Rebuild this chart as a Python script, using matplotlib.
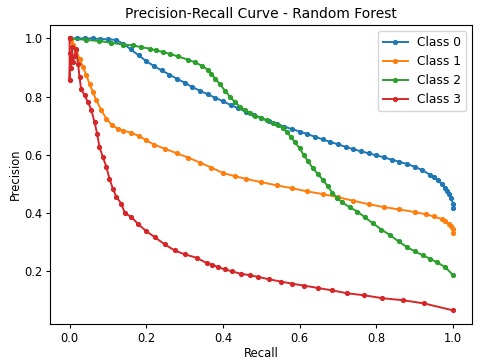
import matplotlib
matplotlib.use("Agg")
import matplotlib.pyplot as plt

# recall / precision values
recall_0 = [0.0, 0.02, 0.04, 0.06, 0.08, 0.10, 0.12, 0.14, 0.16, 0.18, 0.20, 0.22, 0.24, 0.26, 0.28,
            0.30, 0.32, 0.34, 0.36, 0.38, 0.40, 0.42, 0.44, 0.46, 0.48, 0.50, 0.52, 0.54, 0.56, 0.58,
            0.60, 0.62, 0.64, 0.66, 0.68, 0.70, 0.72, 0.74, 0.76, 0.78, 0.80, 0.82, 0.84, 0.86, 0.88,
            0.90, 0.92, 0.94, 0.95, 0.96, 0.97, 0.98, 0.985, 0.99, 0.995, 1.0, 1.0]
precision_0 = [1.0, 1.0, 1.0, 1.0, 0.998, 0.997, 0.995, 0.982, 0.962, 0.942, 0.922, 0.905, 0.89, 0.876, 0.861,
               0.848, 0.833, 0.82, 0.808, 0.796, 0.784, 0.771, 0.76, 0.748, 0.737, 0.726, 0.716, 0.706, 0.697, 0.688,
               0.68, 0.671, 0.662, 0.653, 0.644, 0.636, 0.627, 0.619, 0.612, 0.605, 0.598, 0.591, 0.583, 0.576, 0.568,
               0.559, 0.547, 0.531, 0.522, 0.512, 0.5, 0.487, 0.477, 0.466, 0.45, 0.432, 0.416]

recall_1 = [0.0, 0.005, 0.01, 0.017, 0.026, 0.035, 0.044, 0.052, 0.061, 0.07, 0.083, 0.096, 0.11, 0.125,
            0.14, 0.16, 0.18, 0.2, 0.22, 0.25, 0.28, 0.31, 0.34, 0.37, 0.4, 0.43, 0.46, 0.5, 0.54, 0.58,
            0.62, 0.66, 0.7, 0.74, 0.78, 0.82, 0.86, 0.9, 0.93, 0.95, 0.97, 0.98, 0.99, 0.995, 1.0, 1.0]
precision_1 = [1.0, 0.99, 0.976, 0.959, 0.93, 0.901, 0.873, 0.844, 0.815, 0.787, 0.753, 0.724, 0.703, 0.69,
               0.683, 0.676, 0.665, 0.65, 0.635, 0.62, 0.605, 0.59, 0.573, 0.556, 0.537, 0.527, 0.517, 0.506,
               0.495, 0.485, 0.474, 0.465, 0.454, 0.442, 0.43, 0.42, 0.412, 0.403, 0.395, 0.388, 0.379, 0.372,
               0.362, 0.354, 0.345, 0.33]

recall_2 = [0.0, 0.044, 0.078, 0.109, 0.139, 0.165, 0.187, 0.209, 0.226, 0.244, 0.261, 0.283, 0.309, 0.326,
            0.345, 0.36, 0.37, 0.38, 0.392, 0.405, 0.418, 0.431, 0.444, 0.457, 0.47, 0.483, 0.5, 0.514, 0.53,
            0.544, 0.556, 0.566, 0.577, 0.587, 0.6, 0.61, 0.622, 0.635, 0.648, 0.66, 0.673, 0.685, 0.698,
            0.71, 0.73, 0.75, 0.77, 0.79, 0.813, 0.836, 0.858, 0.879, 0.9, 0.922, 0.94, 0.957, 0.979, 1.0]
precision_2 = [1.0, 0.995, 0.991, 0.985, 0.979, 0.976, 0.97, 0.965, 0.959, 0.953, 0.947, 0.938, 0.927, 0.918,
               0.906, 0.893, 0.878, 0.862, 0.842, 0.821, 0.8, 0.781, 0.766, 0.753, 0.744, 0.735, 0.726, 0.718,
               0.71, 0.701, 0.692, 0.678, 0.662, 0.644, 0.622, 0.60, 0.577, 0.553, 0.533, 0.514, 0.492, 0.47,
               0.452, 0.437, 0.42, 0.405, 0.385, 0.365, 0.343, 0.323, 0.302, 0.283, 0.268, 0.254, 0.242, 0.231,
               0.214, 0.186]

recall_3 = [0.0, 0.0, 0.002, 0.004, 0.006, 0.009, 0.013, 0.017, 0.022, 0.026, 0.03, 0.039, 0.048, 0.057,
            0.065, 0.072, 0.078, 0.087, 0.096, 0.104, 0.113, 0.122, 0.135, 0.144, 0.161, 0.178, 0.2, 0.222,
            0.248, 0.274, 0.3, 0.331, 0.357, 0.372, 0.387, 0.405, 0.424, 0.446, 0.47, 0.492, 0.52, 0.551,
            0.58, 0.612, 0.648, 0.684, 0.723, 0.768, 0.815, 0.869, 0.924, 1.0]
precision_3 = [1.0, 0.857, 0.95, 0.9, 0.97, 0.92, 0.94, 0.965, 0.913, 0.867, 0.827, 0.804, 0.781, 0.753,
               0.712, 0.672, 0.626, 0.592, 0.558, 0.518, 0.483, 0.455, 0.432, 0.40, 0.386, 0.363, 0.337, 0.317,
               0.292, 0.271, 0.258, 0.246, 0.228, 0.222, 0.214, 0.206, 0.199, 0.191, 0.186, 0.18, 0.172, 0.164,
               0.157, 0.15, 0.142, 0.134, 0.124, 0.117, 0.107, 0.10, 0.089, 0.065]

curves = [(recall_0, precision_0), (recall_1, precision_1), (recall_2, precision_2), (recall_3, precision_3)]
labels = ['Class 0', 'Class 1', 'Class 2', 'Class 3']

plt.rcParams['font.size'] = 8.3
plt.rcParams['axes.titlesize'] = 10

fig, ax = plt.subplots(figsize=(4.8, 3.6), dpi=100)
fig.subplots_adjust(left=0.105, right=0.984, bottom=0.1, top=0.931)

for (r, p), lab in zip(curves, labels):
    ax.plot(r, p, marker='.', lw=1.4, ms=5.5, label=lab)

ax.tick_params(length=3, pad=2.5)
ax.set_xlabel('Recall', labelpad=2)
ax.set_ylabel('Precision', labelpad=2)
ax.set_title('Precision-Recall Curve - Random Forest', pad=5)
ax.legend(loc='upper right', fontsize=8.8)

fig.savefig('out.png', dpi=100)
